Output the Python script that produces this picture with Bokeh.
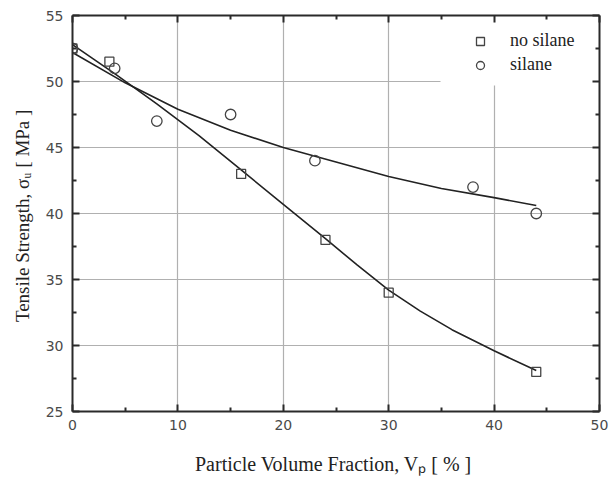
from bokeh.plotting import figure
from bokeh.models import LinearAxis, Legend, LegendItem, Range1d, FixedTicker, Grid
from bokeh.embed import file_html
from bokeh.resources import INLINE

no_silane_x = [0, 3.5, 16, 24, 30, 44]
no_silane_y = [52.5, 51.5, 43, 38, 34, 28]
silane_x = [0, 4, 8, 15, 23, 38, 44]
silane_y = [52.5, 51, 47, 47.5, 44, 42, 40]

# Fitted curves
fit_ns_x = [0, 4, 8, 12, 16, 20, 24, 27, 30, 33, 36, 40, 44]
fit_ns_y = [52.8, 50.6, 48.3, 45.9, 43.3, 40.7, 38.1, 36.1, 34.2, 32.6, 31.2, 29.6, 28.1]
fit_s_x = [0, 5, 10, 15, 20, 25, 30, 35, 40, 44]
fit_s_y = [52.2, 49.9, 47.9, 46.3, 45.0, 43.9, 42.8, 41.9, 41.2, 40.6]

x_ticks = [0, 10, 20, 30, 40, 50]
x_minor = [5, 15, 25, 35, 45]
y_ticks = [25, 30, 35, 40, 45, 50, 55]
y_minor = [27.5, 32.5, 37.5, 42.5, 47.5, 52.5]

SERIF = "Liberation Serif"
SANS = "DejaVu Sans"
FRAME = "#2a2a2a"
GRID = "#b0b0b0"

p = figure(width=615, height=487, output_backend="svg", toolbar_location=None,
           x_range=Range1d(0, 50), y_range=Range1d(25, 55),
           min_border_left=72, min_border_right=16, min_border_top=15, min_border_bottom=76)
p.outline_line_color = None
p.background_fill_color = "white"
p.border_fill_color = "white"


def style_ticks(ax):
    ax.axis_line_width = 2
    ax.axis_line_color = FRAME
    ax.major_tick_in = 7
    ax.major_tick_out = 0
    ax.minor_tick_in = 4
    ax.minor_tick_out = 0
    ax.major_tick_line_width = 2
    ax.minor_tick_line_width = 2
    ax.major_tick_line_color = FRAME
    ax.minor_tick_line_color = FRAME


for ax in (p.xaxis[0], p.yaxis[0]):
    style_ticks(ax)
    ax.major_label_text_font = SANS
    ax.major_label_text_font_size = "14px"
    ax.major_label_text_color = "#4a4a4a"
    ax.axis_label_text_font = SERIF
    ax.axis_label_text_font_style = "normal"
    ax.axis_label_text_color = "#222222"

p.xaxis[0].axis_label_text_font_size = "20px"
p.yaxis[0].axis_label_text_font_size = "19px"
p.xaxis[0].ticker = FixedTicker(ticks=x_ticks, minor_ticks=x_minor)
p.yaxis[0].ticker = FixedTicker(ticks=y_ticks, minor_ticks=y_minor)
p.xaxis[0].axis_label = "Particle Volume Fraction, V\u209a  [ % ]"
p.yaxis[0].axis_label = "Tensile Strength, \u03c3\u1d64  [ MPa ]"
p.xaxis[0].axis_label_standoff = 20
p.yaxis[0].axis_label_standoff = 10
p.xaxis[0].major_label_standoff = 8
p.yaxis[0].major_label_standoff = 9

for loc, ticker in (("right", FixedTicker(ticks=y_ticks, minor_ticks=y_minor)),
                    ("above", FixedTicker(ticks=x_ticks, minor_ticks=x_minor))):
    ax = LinearAxis(ticker=ticker)
    style_ticks(ax)
    ax.major_label_text_font_size = "1px"
    ax.major_label_text_color = None
    ax.major_label_standoff = 0
    p.add_layout(ax, loc)

# grid lines (the legend area in the top-right corner is kept clear)
p.xgrid.ticker = FixedTicker(ticks=[10, 20, 30])
p.ygrid.ticker = FixedTicker(ticks=[30, 35, 40, 45])
for g in (p.xgrid[0], p.ygrid[0]):
    g.grid_line_color = GRID
    g.grid_line_width = 1.2
g40 = Grid(dimension=0, ticker=FixedTicker(ticks=[40]), cross_bounds=(25, 49.7),
           grid_line_color=GRID, grid_line_width=1.2)
g50 = Grid(dimension=1, ticker=FixedTicker(ticks=[50]), cross_bounds=(0, 34.9),
           grid_line_color=GRID, grid_line_width=1.2)
p.add_layout(g40, "center")
p.add_layout(g50, "center")

p.line(fit_ns_x, fit_ns_y, line_color="#222222", line_width=1.6)
p.line(fit_s_x, fit_s_y, line_color="#222222", line_width=1.6)
r_sq = p.scatter(no_silane_x, no_silane_y, marker="square", size=9,
                 fill_color=None, line_color="#444444", line_width=1.3)
r_ci = p.scatter(silane_x, silane_y, marker="circle", size=10.5,
                 fill_color=None, line_color="#444444", line_width=1.3)

legend = Legend(items=[LegendItem(label="no silane", renderers=[r_sq]),
                       LegendItem(label="silane", renderers=[r_ci])],
                location="top_right")
legend.margin = 15
legend.padding = 0
legend.spacing = 3
legend.glyph_width = 60
legend.glyph_height = 20
legend.label_height = 20
legend.label_width = 74
legend.label_standoff = 0
legend.label_text_font = SERIF
legend.label_text_font_size = "18px"
legend.label_text_color = "#222222"
legend.border_line_color = None
legend.background_fill_alpha = 0
p.add_layout(legend, "center")

open("out.html", "w").write(file_html(p, INLINE))
